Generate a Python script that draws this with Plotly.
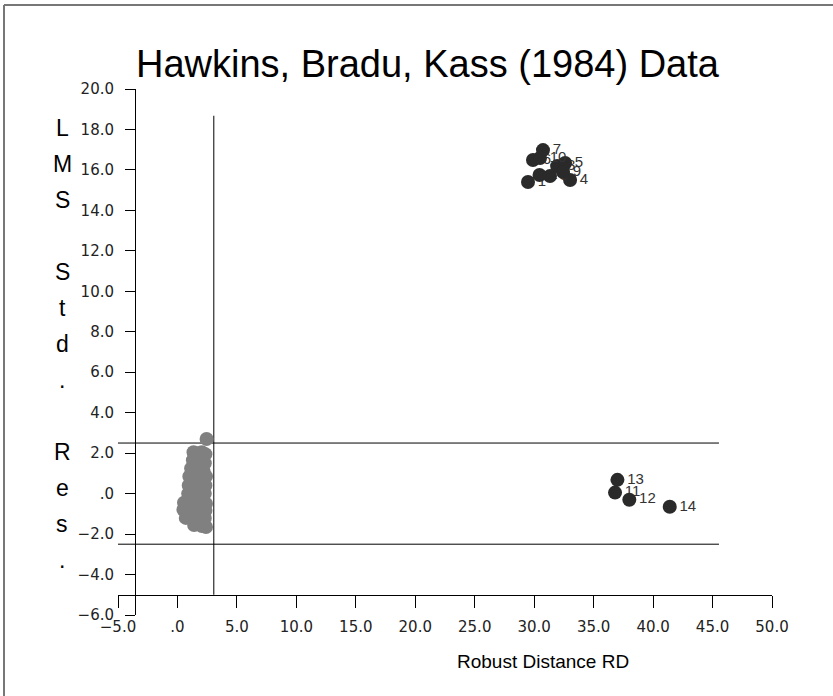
import plotly.graph_objects as go

# Hawkins, Bradu & Kass (1984): robust distance vs standardized LMS residual
# Observations 1-14 (labelled outliers / leverage points)
obs_ids = [1, 2, 3, 4, 5, 6, 7, 8, 9, 10, 11, 12, 13, 14]
obs_rd = [29.48, 30.45, 31.93, 33.02, 32.6, 29.9, 30.74, 31.33, 32.43, 30.49,
          36.8, 38.0, 37.0, 41.4]
obs_res = [15.40, 15.75, 16.19, 15.50, 16.34, 16.49, 16.98, 15.70, 15.90, 16.59,
           0.05, -0.3, 0.68, -0.65]

# Observations 15-75 (regular points)
good_rd = [2.45, 1.35, 1.70, 2.05, 2.35, 1.30, 1.60, 1.95, 2.30, 1.15,
           1.50, 1.85, 2.20, 1.00, 1.35, 1.70, 2.05, 2.40, 0.95, 1.30,
           1.65, 2.00, 2.35, 0.90, 1.20, 1.55, 1.90, 2.30, 0.55, 0.85,
           1.15, 1.50, 1.80, 2.15, 2.40, 0.50, 0.80, 1.10, 1.45, 1.75,
           2.05, 2.35, 0.70, 1.00, 1.30, 1.65, 1.95, 2.30, 1.40, 1.75,
           2.05, 2.40, 1.45, 1.75, 2.10, 1.25, 1.85, 1.05, 1.60, 2.20,
           1.20]
good_res = [2.70, 2.05, 2.00, 2.05, 1.95, 1.65, 1.55, 1.70, 1.50, 1.25,
            1.15, 1.30, 1.10, 0.85, 0.75, 0.90, 0.70, 0.85, 0.40, 0.35,
            0.45, 0.30, 0.40, 0.00, -0.05, 0.05, -0.10, 0.00, -0.45, -0.35,
            -0.40, -0.30, -0.45, -0.35, -0.50, -0.80, -0.85, -0.75, -0.85, -0.80,
            -0.90, -0.85, -1.20, -1.15, -1.25, -1.15, -1.25, -1.20, -1.55, -1.50,
            -1.60, -1.65, 1.85, 1.40, 1.85, 0.55, 0.15, -0.20, -0.60, -0.65,
            -1.00]

# Cutoffs: sqrt(chi2(3, .975)) for the distance, +/-2.5 for residuals
rd_cut = 3.0575
res_cut = 2.5

x_ticks = [-5, 0, 5, 10, 15, 20, 25, 30, 35, 40, 45, 50]
x_ticktext = ["\u22125.0", ".0", "5.0", "10.0", "15.0", "20.0", "25.0",
              "30.0", "35.0", "40.0", "45.0", "50.0"]
y_ticks = [-6, -4, -2, 0, 2, 4, 6, 8, 10, 12, 14, 16, 18, 20]
y_ticktext = ["\u22126.0", "\u22124.0", "\u22122.0", ".0", "2.0", "4.0", "6.0",
              "8.0", "10.0", "12.0", "14.0", "16.0", "18.0", "20.0"]

title = "Hawkins, Bradu, Kass (1984) Data"
x_title = "Robust Distance RD"
y_title = "LMS Std. Res."

# Page geometry (pixels)
W, H = 833, 696
ML, MR, MT, MB = 118, 61, 89, 81
PW, PH = W - ML - MR, H - MT - MB


def fx(px):
    return (px - ML) / PW


def fy(py):
    return (H - MB - py) / PH


FONT = "Liberation Sans, Arial, sans-serif"
TICK_FONT = "DejaVu Sans, Liberation Sans, sans-serif"
DARK = "#2a2a2a"
GRAY = "#808080"

fig = go.Figure()

# Reference lines
x_max = 1.1 * max(obs_rd)
y_max = 1.1 * max(obs_res)
line_style = dict(color="black", width=1)
for yv in (res_cut, -res_cut):
    fig.add_trace(go.Scatter(x=[x_ticks[0], x_max], y=[yv, yv], mode="lines",
                             line=line_style, hoverinfo="skip"))
fig.add_trace(go.Scatter(x=[rd_cut, rd_cut], y=[-5, y_max], mode="lines",
                         line=line_style, hoverinfo="skip"))

# Regular observations
fig.add_trace(go.Scatter(x=good_rd, y=good_res, mode="markers",
                         marker=dict(size=14, color=GRAY, line=dict(width=0))))

# Labelled observations, one trace each so later points sit over earlier labels
for oid, xv, yv in zip(obs_ids, obs_rd, obs_res):
    fig.add_trace(go.Scatter(
        x=[xv], y=[yv], mode="markers+text", text=[str(oid)],
        textposition="middle right",
        textfont=dict(family=FONT, size=15, color="#333333"),
        marker=dict(size=14, color=DARK, line=dict(width=0))))

annotations = [
    dict(text=title, x=fx(428), y=fy(64), xref="paper", yref="paper",
         xanchor="center", yanchor="middle", showarrow=False,
         font=dict(family=FONT, size=38, color="black")),
    dict(text=x_title, x=fx(543), y=fy(661), xref="paper", yref="paper",
         xanchor="center", yanchor="middle", showarrow=False,
         font=dict(family=FONT, size=19, color="black")),
]
# Vertical axis title, one character per row
for i, ch in enumerate(y_title):
    if ch == " ":
        continue
    annotations.append(dict(text=ch, x=fx(62), y=fy(128 + 36 * i),
                            xref="paper", yref="paper", xanchor="center",
                            yanchor="middle", showarrow=False,
                            font=dict(family=FONT, size=23, color="black")))

shapes = [
    dict(type="line", xref="paper", yref="paper", x0=fx(4), x1=fx(833),
         y0=fy(5), y1=fy(5), line=dict(color="#777777", width=2)),
    dict(type="line", xref="paper", yref="paper", x0=fx(4), x1=fx(4),
         y0=fy(5), y1=fy(696), line=dict(color="#777777", width=2)),
]

fig.update_layout(
    width=W, height=H,
    margin=dict(l=ML, r=MR, t=MT, b=MB, autoexpand=False),
    paper_bgcolor="white", plot_bgcolor="white",
    showlegend=False,
    font=dict(family=FONT, color="#222222"),
    annotations=annotations,
    shapes=shapes,
    xaxis=dict(range=[-5, 50], domain=[0, 1], anchor="free",
               position=fy(594.5), showline=True, linecolor="black",
               linewidth=1, ticks="outside", ticklen=12, tickcolor="black",
               tickwidth=1, tickvals=x_ticks, ticktext=x_ticktext,
               tickfont=dict(family=TICK_FONT, size=15, color="#222222"),
               showgrid=False, zeroline=False, ticklabelstandoff=6),
    yaxis=dict(range=[-6, 20], domain=[0, 1], anchor="free",
               position=fx(135), showline=True, linecolor="black",
               linewidth=1, ticks="outside", ticklen=10, tickcolor="black",
               tickwidth=1, tickvals=y_ticks, ticktext=y_ticktext,
               tickfont=dict(family=TICK_FONT, size=15, color="#222222"),
               showgrid=False, zeroline=False, ticklabelstandoff=8),
)

fig.write_html("out.html")
